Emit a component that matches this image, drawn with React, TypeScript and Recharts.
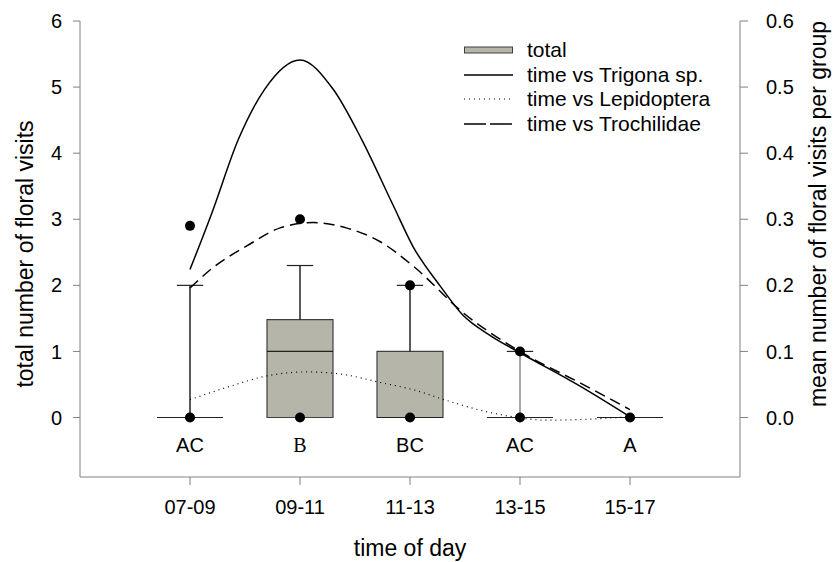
import {
  ComposedChart,
  Line,
  ReferenceArea,
  ReferenceDot,
  ReferenceLine,
  Scatter,
  XAxis,
  YAxis,
} from "recharts";

const categories = ["07-09", "09-11", "11-13", "13-15", "15-17"];
const groupLetters = ["AC", "B", "BC", "AC", "A"];

// box plot of total visits (left axis)
const q1 = [0, 0, 0, 0, 0];
const median = [0, 1, 0, 0, 0];
const q3 = [0, 1.48, 1, 0, 0];
const upperWhisker = [2, 2.3, 2, 1, 0];
const pointX = [1, 1, 2, 2, 3, 3, 4, 4, 5];
const pointY = [2.9, 0, 3, 0, 2, 0, 1, 0, 0];

// fitted curves, mean visits per group (right axis)
const trigonaX = [1.0, 1.2, 1.44, 1.68, 2.0, 2.3, 2.56, 2.85, 3.03, 3.27, 3.48, 3.73, 4.0, 4.55, 5.0];
const trigonaY = [0.224, 0.31, 0.421, 0.497, 0.541, 0.497, 0.421, 0.32, 0.258, 0.2, 0.155, 0.124, 0.098, 0.047, 0.001];
const lepidopteraX = [1.0, 1.36, 1.7, 2.06, 2.36, 2.73, 3.03, 3.33, 3.64, 3.94, 4.24, 4.55, 4.97];
const lepidopteraY = [0.027, 0.047, 0.063, 0.069, 0.066, 0.053, 0.042, 0.026, 0.011, 0.001, -0.004, -0.003, 0.001];
const trochilidaeX = [1.0, 1.21, 1.52, 1.82, 2.12, 2.42, 2.73, 3.03, 3.48, 4.0, 4.55, 5.0];
const trochilidaeY = [0.196, 0.227, 0.26, 0.287, 0.295, 0.287, 0.266, 0.229, 0.159, 0.1, 0.052, 0.012];

const zip = (xs: number[], ys: number[]) => xs.map((x, i) => ({ x, y: ys[i] }));

const trigona = zip(trigonaX, trigonaY);
const lepidoptera = zip(lepidopteraX, lepidopteraY);
const trochilidae = zip(trochilidaeX, trochilidaeY);
const points = zip(pointX, pointY);
const letters = groupLetters.map((t, i) => ({ x: i + 1, y: -0.42, t }));

const FONT = "'Liberation Sans', Arial, sans-serif";
const FRAME = "#808080";
const BOX_FILL = "#b5b5a9";
const HALF_BOX = 0.3;
const HALF_CAP = 0.12;

function renderBoxes() {
  const out: any[] = [];
  categories.forEach((_, i) => {
    const c = i + 1;
    if (q3[i] > q1[i]) {
      out.push(
        <ReferenceArea
          key={"box" + i}
          yAxisId="left"
          x1={c - HALF_BOX}
          x2={c + HALF_BOX}
          y1={q1[i]}
          y2={q3[i]}
          fill={BOX_FILL}
          fillOpacity={1}
          stroke="#404040"
          strokeWidth={1.2}
        />
      );
    }
    out.push(
      <ReferenceLine
        key={"med" + i}
        yAxisId="left"
        segment={[
          { x: c - HALF_BOX, y: median[i] },
          { x: c + HALF_BOX, y: median[i] },
        ]}
        stroke="#222"
        strokeWidth={1.2}
      />
    );
    if (upperWhisker[i] > q3[i]) {
      out.push(
        <ReferenceLine
          key={"wh" + i}
          yAxisId="left"
          segment={[
            { x: c, y: q3[i] },
            { x: c, y: upperWhisker[i] },
          ]}
          stroke={i === 3 ? "#888" : "#222"}
          strokeWidth={1.5}
        />
      );
      out.push(
        <ReferenceLine
          key={"cap" + i}
          yAxisId="left"
          segment={[
            { x: c - HALF_CAP, y: upperWhisker[i] },
            { x: c + HALF_CAP, y: upperWhisker[i] },
          ]}
          stroke="#222"
          strokeWidth={1.2}
        />
      );
    }
  });
  return out;
}

function VTitle({ viewBox, text, dxPos, cy }: any) {
  const x = viewBox.x + dxPos;
  return (
    <text
      x={x}
      y={cy}
      transform={`rotate(-90, ${x}, ${cy})`}
      textAnchor="middle"
      dominantBaseline="central"
      fontFamily={FONT}
      fontSize={23}
      fill="#000"
    >
      {text}
    </text>
  );
}

const legendRows = [
  { label: "total", kind: "box" },
  { label: "time vs Trigona sp.", kind: "solid" },
  { label: "time vs Lepidoptera", kind: "dot" },
  { label: "time vs Trochilidae", kind: "dash" },
];

function LegendBox() {
  return (
    <div
      style={{
        position: "absolute",
        left: 464,
        top: 38,
        fontFamily: FONT,
        fontSize: 21,
        lineHeight: "24px",
        color: "#000",
      }}
    >
      {legendRows.map((r) => (
        <div key={r.label} style={{ display: "flex", alignItems: "center", height: 24.5 }}>
          <svg width={50} height={12} style={{ marginRight: 13 }}>
            {r.kind === "box" && (
              <rect x={0.5} y={3} width={48} height={6} fill={BOX_FILL} stroke="#404040" strokeWidth={1} />
            )}
            {r.kind === "solid" && <line x1={0} x2={49} y1={6} y2={6} stroke="#000" strokeWidth={1.5} />}
            {r.kind === "dot" && (
              <line x1={0} x2={49} y1={6} y2={6} stroke="#000" strokeWidth={1.2} strokeDasharray="1 4" />
            )}
            {r.kind === "dash" && (
              <line x1={0} x2={49} y1={6} y2={6} stroke="#000" strokeWidth={1.5} strokeDasharray="22 4" />
            )}
          </svg>
          <span>{r.label}</span>
        </div>
      ))}
    </div>
  );
}

export default function App() {
  return (
    <div style={{ position: "absolute", left: 0, top: 0, width: 833, height: 562, background: "#fff" }}>
      <ComposedChart width={833} height={562} margin={{ top: 21, right: 0, bottom: 0, left: 0 }}>
        <XAxis
          xAxisId="top"
          orientation="top"
          type="number"
          dataKey="x"
          domain={[0, 6]}
          height={0}
          tick={false}
          tickLine={false}
          axisLine={{ stroke: FRAME }}
        />
        <XAxis
          type="number"
          dataKey="x"
          domain={[0, 6]}
          ticks={[1, 2, 3, 4, 5]}
          tickFormatter={(v) => categories[v - 1]}
          height={85}
          tickSize={8}
          tickMargin={15}
          axisLine={{ stroke: FRAME }}
          tickLine={{ stroke: FRAME }}
          tick={{ fontFamily: FONT, fontSize: 20, fill: "#000" }}
          label={{
            value: "time of day",
            position: "insideBottom",
            offset: 6,
            fontFamily: FONT,
            fontSize: 23,
            fill: "#000",
          }}
        />
        <YAxis
          yAxisId="left"
          type="number"
          domain={[-0.9, 6]}
          ticks={[0, 1, 2, 3, 4, 5, 6]}
          width={80}
          tickSize={7}
          tickMargin={11}
          axisLine={{ stroke: FRAME }}
          tickLine={{ stroke: FRAME }}
          tick={{ fontFamily: FONT, fontSize: 20, fill: "#000" }}
          label={<VTitle text="total number of floral visits" dxPos={25} cy={254} />}
        />
        <YAxis
          yAxisId="right"
          orientation="right"
          type="number"
          domain={[-0.09, 0.6]}
          ticks={[0, 0.1, 0.2, 0.3, 0.4, 0.5, 0.6]}
          tickFormatter={(v) => v.toFixed(1)}
          width={93}
          tickSize={8}
          tickMargin={18}
          axisLine={{ stroke: FRAME }}
          tickLine={{ stroke: FRAME }}
          tick={{ fontFamily: FONT, fontSize: 20, fill: "#000" }}
          label={<VTitle text="mean number of floral visits per group" dxPos={78} cy={214} />}
        />

        {points.map((p, i) => (
          <ReferenceDot
            key={"pt" + i}
            yAxisId="left"
            x={p.x}
            y={p.y}
            r={5}
            fill="#000"
            stroke="none"
          />
        ))}

        {renderBoxes()}

        <Line
          yAxisId="right"
          data={lepidoptera}
          dataKey="y"
          type="monotone"
          stroke="#000"
          strokeWidth={1.2}
          strokeDasharray="1 4"
          dot={false}
          activeDot={false}
          isAnimationActive={false}
        />
        <Line
          yAxisId="right"
          data={trochilidae}
          dataKey="y"
          type="monotone"
          stroke="#000"
          strokeWidth={1.5}
          strokeDasharray="11 6"
          dot={false}
          activeDot={false}
          isAnimationActive={false}
        />
        <Line
          yAxisId="right"
          data={trigona}
          dataKey="y"
          type="monotone"
          stroke="#000"
          strokeWidth={1.5}
          dot={false}
          activeDot={false}
          isAnimationActive={false}
        />

        <Scatter
          yAxisId="left"
          data={letters}
          dataKey="y"
          isAnimationActive={false}
          shape={(p: any) => (
            <text
              x={p.cx}
              y={p.cy}
              textAnchor="middle"
              dominantBaseline="central"
              fontFamily={p.payload.t === "B" ? "'Liberation Serif', serif" : FONT}
              fontSize={20}
              fill="#000"
            >
              {p.payload.t}
            </text>
          )}
        />
      </ComposedChart>
      <LegendBox />
    </div>
  );
}
